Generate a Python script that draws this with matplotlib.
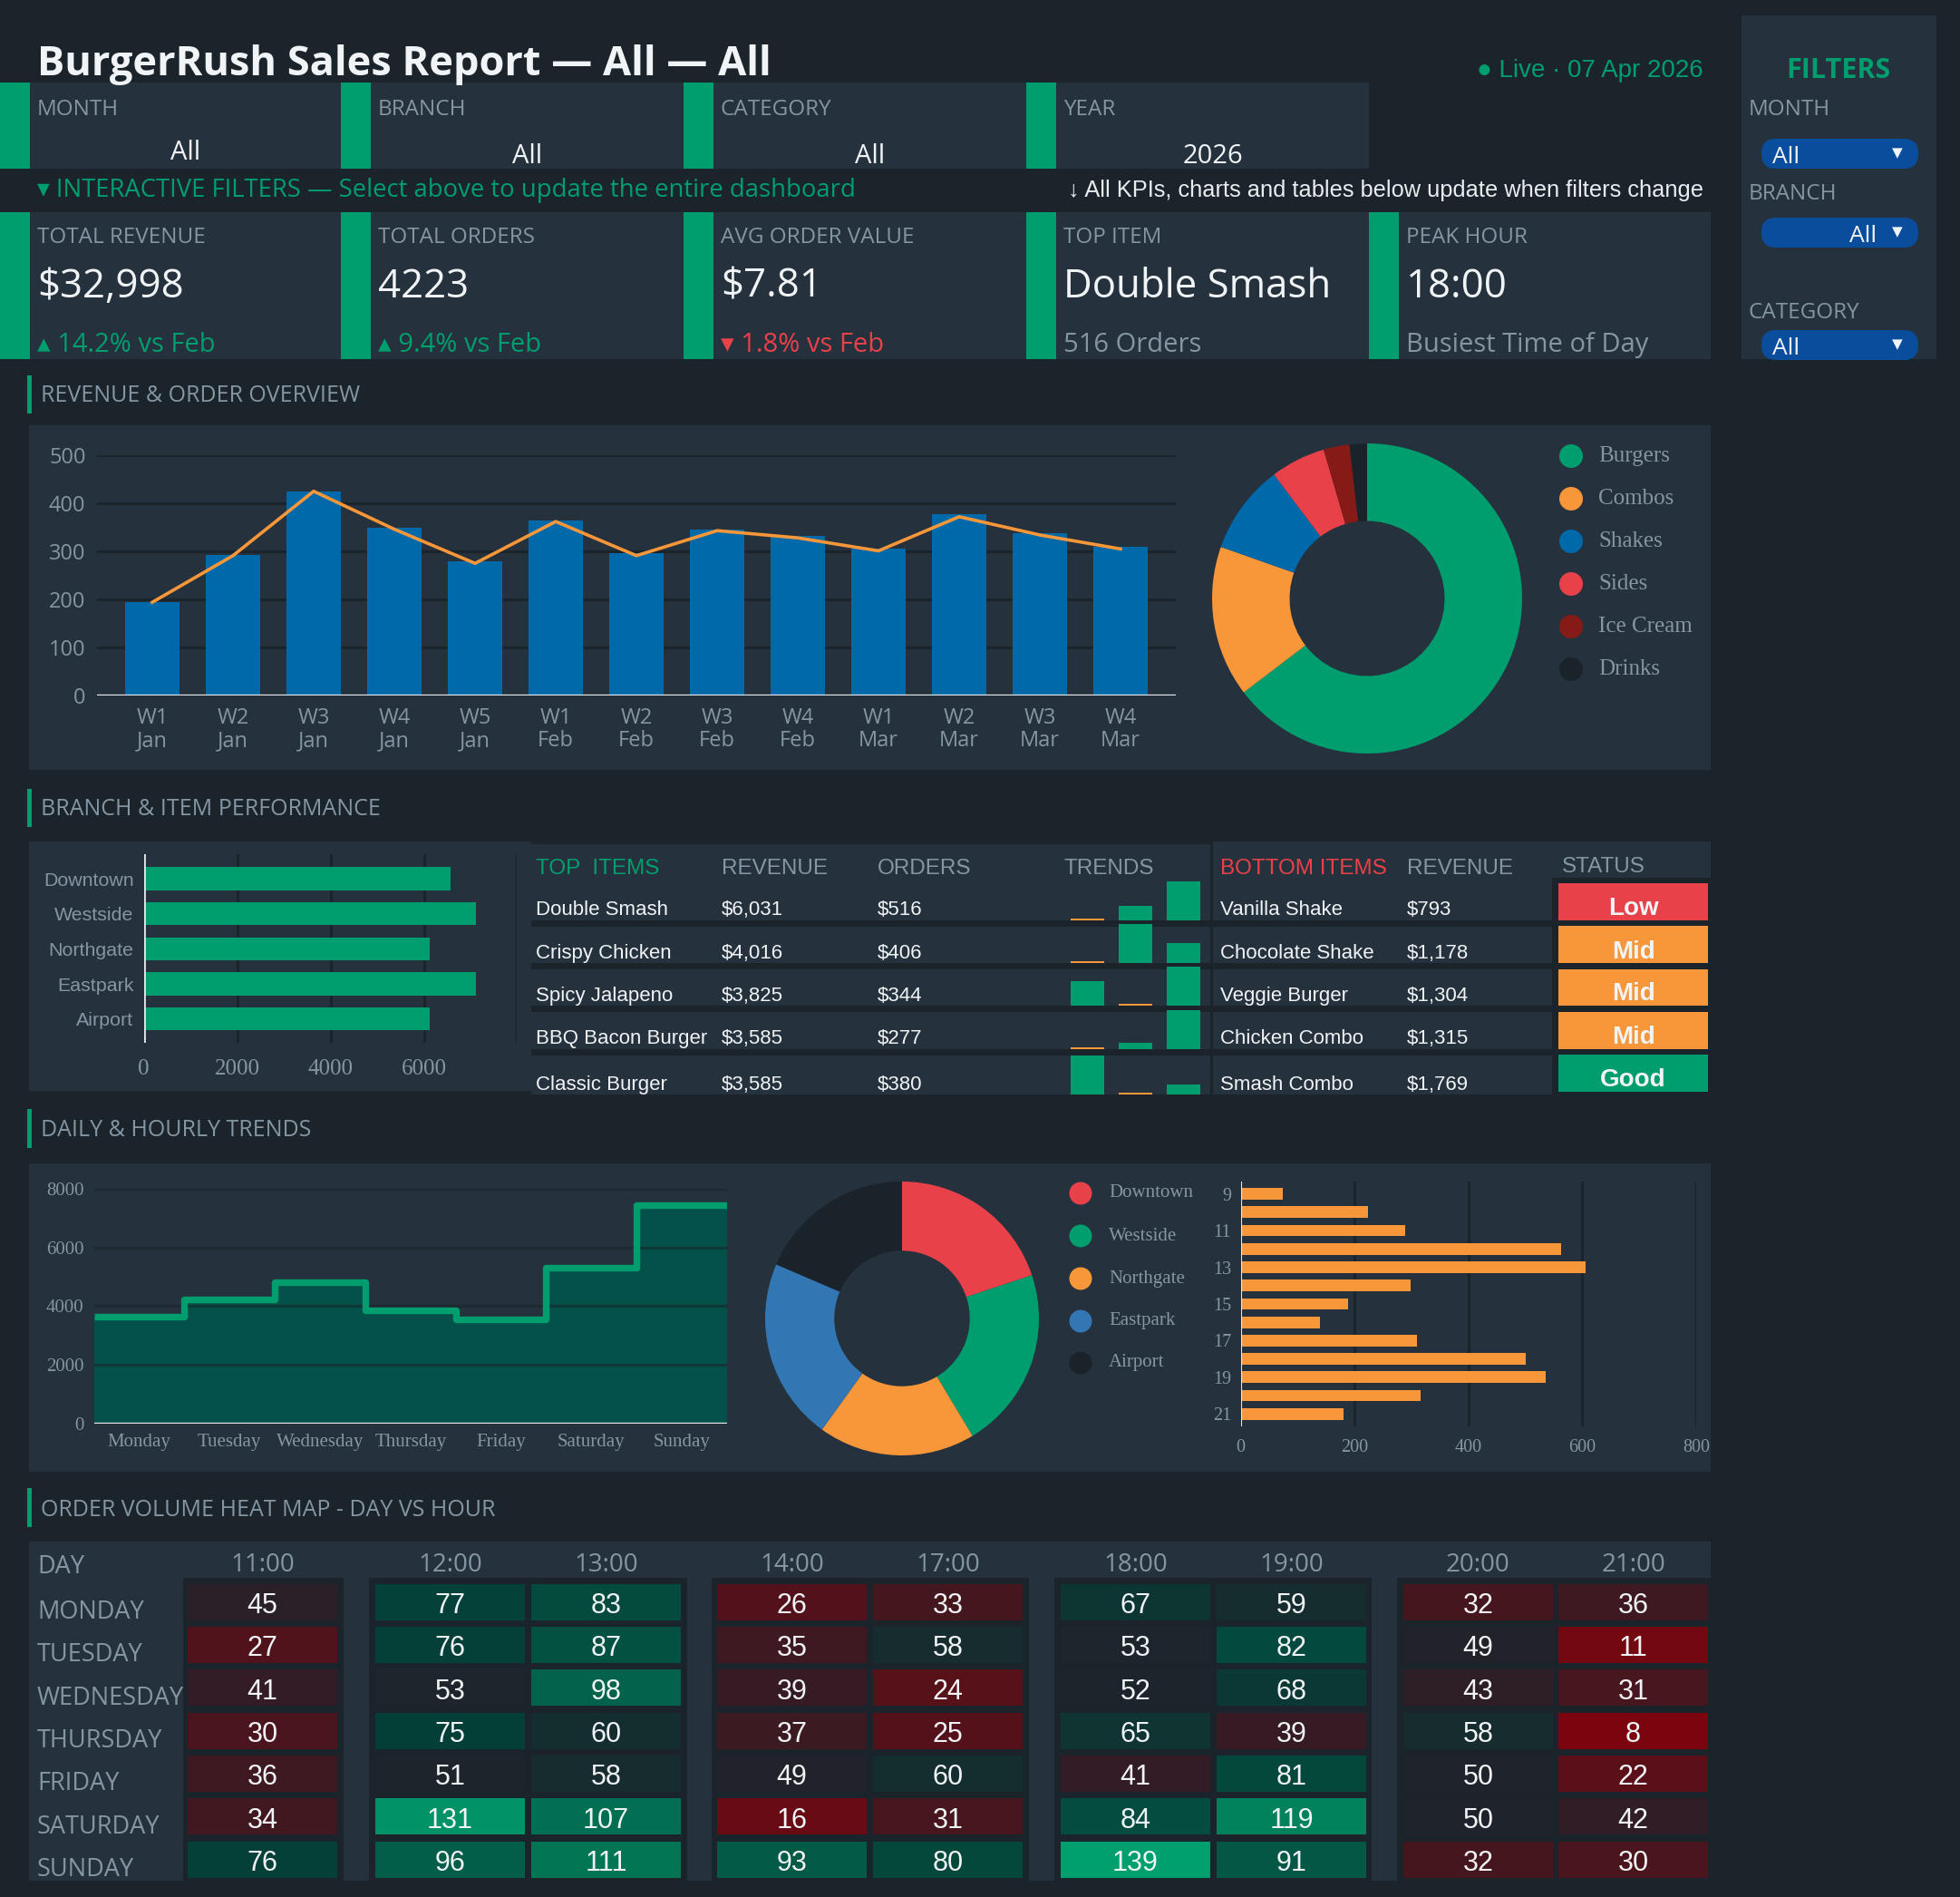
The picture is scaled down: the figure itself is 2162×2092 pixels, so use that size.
import matplotlib
matplotlib.use("Agg")
import matplotlib.pyplot as plt
import numpy as np
from matplotlib.colors import LinearSegmentedColormap, Normalize
from matplotlib.patches import FancyBboxPatch, Rectangle

W, H = 2162, 2092

BG = "#1c242b"
PANEL = "#25313c"
GREY = "#8596a3"
WHITE = "#f1f4f6"
GREEN = "#009e6e"
RED = "#e8414a"
ORANGE = "#f8963a"
BLUE = "#0069aa"
PILL = "#0a4d9c"

MONT = ["Open Sans", "DejaVu Sans"]
ARIAL = ["Liberation Sans", "DejaVu Sans"]
TIMES = ["Liberation Serif", "DejaVu Serif"]

plt.rcParams["font.family"] = MONT

# ---- data
filter_names = ["MONTH", "BRANCH", "CATEGORY", "YEAR"]
filter_values = ["All", "All", "All", "2026"]

kpi_names = ["TOTAL REVENUE", "TOTAL ORDERS", "AVG ORDER VALUE", "TOP ITEM", "PEAK HOUR"]
kpi_values = ["$32,998", "4223", "$7.81", "Double Smash", "18:00"]
kpi_notes = ["▴ 14.2% vs Feb", "▴ 9.4% vs Feb", "▾ 1.8% vs Feb", "516 Orders", "Busiest Time of Day"]

weeks = ["W1\nJan", "W2\nJan", "W3\nJan", "W4\nJan", "W5\nJan", "W1\nFeb", "W2\nFeb",
         "W3\nFeb", "W4\nFeb", "W1\nMar", "W2\nMar", "W3\nMar", "W4\nMar"]
week_orders = [195, 292, 425, 349, 280, 364, 296, 345, 332, 305, 377, 337, 309]
week_trend = [194, 291, 425, 346, 275, 362, 291, 343, 328, 301, 372, 334, 305]

categories = ["Burgers", "Combos", "Shakes", "Sides", "Ice Cream", "Drinks"]
category_revenue = [21300, 5190, 3080, 1890, 890, 600]
category_colors = [GREEN, ORANGE, BLUE, RED, "#851a17", "#1b232a"]

branches = ["Downtown", "Westside", "Northgate", "Eastpark", "Airport"]
branch_revenue = [6560, 7100, 6120, 7100, 6118]
branch_colors = [RED, GREEN, ORANGE, "#3277b3", "#1b232a"]

top_items = ["Double Smash", "Crispy Chicken", "Spicy Jalapeno", "BBQ Bacon Burger", "Classic Burger"]
top_revenue = [6031, 4016, 3825, 3585, 3585]
top_orders = [516, 406, 344, 277, 380]
top_trend = [[0, 37, 100], [0, 100, 51], [62, 0, 100], [0, 16, 100], [100, 0, 26]]

bottom_items = ["Vanilla Shake", "Chocolate Shake", "Veggie Burger", "Chicken Combo", "Smash Combo"]
bottom_revenue = [793, 1178, 1304, 1315, 1769]
bottom_status = ["Low", "Mid", "Mid", "Mid", "Good"]
status_colors = {"Low": RED, "Mid": ORANGE, "Good": GREEN}

days = ["Monday", "Tuesday", "Wednesday", "Thursday", "Friday", "Saturday", "Sunday"]
day_revenue = [3630, 4230, 4820, 3850, 3560, 5300, 7440]

hours = [9, 10, 11, 12, 13, 14, 15, 16, 17, 18, 19, 20, 21]
hour_orders = [74, 223, 289, 562, 606, 298, 188, 140, 310, 500, 536, 316, 181]

heat_days = ["MONDAY", "TUESDAY", "WEDNESDAY", "THURSDAY", "FRIDAY", "SATURDAY", "SUNDAY"]
heat_hours = ["11:00", "12:00", "13:00", "14:00", "17:00", "18:00", "19:00", "20:00", "21:00"]
heat_orders = [
    [45, 77, 83, 26, 33, 67, 59, 32, 36],
    [27, 76, 87, 35, 58, 53, 82, 49, 11],
    [41, 53, 98, 39, 24, 52, 68, 43, 31],
    [30, 75, 60, 37, 25, 65, 39, 58, 8],
    [36, 51, 58, 49, 60, 41, 81, 50, 22],
    [34, 131, 107, 16, 31, 84, 119, 50, 42],
    [76, 96, 111, 93, 80, 139, 91, 32, 30],
]

# ---- canvas in pixel coordinates: panels below, text on top
fig = plt.figure(figsize=(W / 100, H / 100), dpi=100, facecolor=BG)
bg = fig.add_axes([0, 0, 1, 1])
fg = fig.add_axes([0, 0, 1, 1], zorder=10)
for a in (bg, fg):
    a.set_xlim(0, W)
    a.set_ylim(H, 0)
    a.axis("off")
fg.patch.set_visible(False)


def box(x0, y0, x1, y1):
    ax = fig.add_axes([x0 / W, 1 - y1 / H, (x1 - x0) / W, (y1 - y0) / H])
    ax.set_facecolor("none")
    return ax


def rect(x0, y0, x1, y1, color):
    bg.add_patch(Rectangle((x0, y0), x1 - x0, y1 - y0, color=color, lw=0))


def txt(x, y, s, size, color=GREY, family=MONT, **kw):
    kw.setdefault("va", "baseline")
    fg.text(x, y, s, fontsize=size, color=color, family=family, **kw)


def style_axes(ax, size, family, xpad, ypad):
    for s in ax.spines.values():
        s.set_visible(False)
    ax.tick_params(length=0, colors=GREY, labelsize=size)
    ax.tick_params(axis="x", pad=xpad)
    ax.tick_params(axis="y", pad=ypad)
    for lbl in ax.get_xticklabels() + ax.get_yticklabels():
        lbl.set_family(family)


# ---- header
txt(41, 83, "BurgerRush Sales Report — All — All", 32.5, WHITE, weight="bold")
txt(1879, 85, "● Live · 07 Apr 2026", 20, GREEN, ARIAL, ha="right")

card_x = [0, 376, 754, 1132, 1510, 1887]
for i, (name, val) in enumerate(zip(filter_names, filter_values)):
    x0, x1 = card_x[i], card_x[i + 1]
    rect(x0, 91, x1, 186, PANEL)
    rect(x0, 91, x0 + 33, 186, GREEN)
    txt(x0 + 41, 127, name, 17.5)
    txt((x0 + 33 + x1) / 2, 176 if i == 0 else 180, val, 21, WHITE, ha="center")

txt(41, 217, "▾ INTERACTIVE FILTERS — Select above to update the entire dashboard", 19.8, GREEN)
txt(1879, 217, "↓ All KPIs, charts and tables below update when filters change", 18.3,
    "#e8edf0", ARIAL, ha="right")

for i, (name, val, note) in enumerate(zip(kpi_names, kpi_values, kpi_notes)):
    x0, x1 = card_x[i], card_x[i + 1]
    rect(x0, 234, x1, 396, PANEL)
    rect(x0, 234, x0 + 33, 396, GREEN)
    note_color = GREEN if note.startswith("▴") else RED if note.startswith("▾") else GREY
    txt(x0 + 41, 268, name, 17.5)
    txt(x0 + 41, 328, val, 31.5, WHITE)
    txt(x0 + 41, 388, note, 21, note_color)

# filter sidebar
rect(1921, 17, 2136, 396, PANEL)
txt(2028, 86, "FILTERS", 22, GREEN, weight="bold", ha="center")
for name, base in [("MONTH", 127), ("BRANCH", 220), ("CATEGORY", 351)]:
    txt(1929, base, name, 17.5)
for (y0, y1), right in [((153, 186), False), ((240, 273), True), ((364, 397), False)]:
    bg.add_patch(FancyBboxPatch((1943, y0), 173, y1 - y0,
                                boxstyle="round,pad=0,rounding_size=16", color=PILL, lw=0))
    if right:
        txt(2070, y1 - 6, "All", 19, WHITE, ha="right")
    else:
        txt(1955, y1 - 6, "All", 19, WHITE)
    txt(2093, (y0 + y1) / 2 - 1, "▼", 11, WHITE, ["DejaVu Sans"], ha="center", va="center")


def section(y0, y1, base, title):
    rect(30, y0, 35, y1, GREEN)
    txt(45, base, title, 18)


# ---- revenue & order overview
section(414, 456, 443, "REVENUE & ORDER OVERVIEW")
rect(32, 469, 1887, 849, PANEL)

ax = box(107, 502, 1297, 767)
x = np.arange(len(weeks))
ax.bar(x, week_orders, width=0.67, color=BLUE, zorder=2)
ax.plot(x, week_trend, color=ORANGE, lw=2.6, zorder=3)
ax.set_xlim(-0.685, len(weeks) - 0.315)
ax.set_ylim(0, 500)
ax.set_yticks(range(0, 501, 100))
ax.set_xticks(x, weeks)
ax.set_axisbelow(True)
ax.grid(axis="y", color=BG, lw=2.2)
ax.axhline(0, color="#e3e7ea", lw=2.4, zorder=4)
style_axes(ax, 17, MONT, 9, 9)
for lbl in ax.get_xticklabels():
    lbl.set_linespacing(1.1)

ax = box(1508 - 171, 660 - 171, 1508 + 171, 660 + 171)
ax.pie(category_revenue, colors=category_colors, startangle=90, counterclock=False,
       wedgeprops=dict(width=0.5, linewidth=0))
ax.set_xlim(-1, 1)
ax.set_ylim(-1, 1)
leg_y = [503, 550, 597, 644, 691, 738]
fg.scatter([1733] * len(categories), leg_y, s=350, c=category_colors, lw=0)
for name, y in zip(categories, leg_y):
    txt(1763, y, name, 18, GREY, TIMES, va="center")

# ---- branch & item performance
section(870, 912, 899, "BRANCH & ITEM PERFORMANCE")
rect(32, 928, 586, 1203, PANEL)
rect(586, 931, 1335, 1207, PANEL)
rect(1338, 928, 1887, 1207, PANEL)
rect(1712, 968, 1887, 1207, BG)
row_bottoms = [1015, 1062, 1109, 1157, 1207]
for y in row_bottoms[:-1]:
    rect(586, y, 1712, y + 7, BG)

ax = box(158.5, 942, 570, 1150)
yb = np.arange(len(branches))
ax.barh(yb, branch_revenue, height=0.65, color=GREEN, zorder=2)
ax.set_ylim(len(branches) - 0.32, -0.70)
ax.set_xlim(0, 7980)
ax.set_xticks([0, 2000, 4000, 6000])
ax.set_yticks(yb, branches)
ax.set_axisbelow(True)
ax.grid(axis="x", color=BG, lw=2.2)
ax.axvline(0, color="#e3e7ea", lw=2, zorder=4)
ax.axvline(7980, color=BG, lw=2.2, zorder=4)
style_axes(ax, 15.4, ARIAL, 13, 8)
for lbl in ax.get_xticklabels():
    lbl.set_family(TIMES)
    lbl.set_fontsize(18)

head = 964
txt(591, head, "TOP  ITEMS", 17.5, GREEN, ARIAL)
txt(796, head, "REVENUE", 17.5, GREY, ARIAL)
txt(968, head, "ORDERS", 17.5, GREY, ARIAL)
txt(1173, head, "TRENDS", 17.5, GREY, ARIAL)
txt(1346, head, "BOTTOM ITEMS", 17.5, RED, ARIAL)
txt(1552, head, "REVENUE", 17.5, GREY, ARIAL)
txt(1723, head - 2, "STATUS", 17.5, GREY, ARIAL)

row_base = [1009, 1057, 1104, 1151, 1202]
for i in range(len(top_items)):
    b = row_base[i]
    txt(591, b, top_items[i], 16, WHITE, ARIAL)
    txt(796, b, f"${top_revenue[i]:,}", 16, WHITE, ARIAL)
    txt(968, b, f"${top_orders[i]}", 16, WHITE, ARIAL)
    txt(1346, b, bottom_items[i], 16, WHITE, ARIAL)
    txt(1552, b, f"${bottom_revenue[i]:,}", 16, WHITE, ARIAL)

    ax = box(1173, row_bottoms[i] - 43, 1331.5, row_bottoms[i])
    trend = top_trend[i]
    ax.bar(range(3), [v if v > 0 else 5 for v in trend], width=0.7,
           color=[GREEN if v > 0 else ORANGE for v in trend])
    ax.set_xlim(-0.5, 2.5)
    ax.set_ylim(0, 100)
    ax.axis("off")

ax = box(1719, 974, 1884, 1204)
ys = np.arange(len(bottom_status))
ax.barh(ys, 1, height=41 / 47.25, color=[status_colors[s] for s in bottom_status])
ax.set_xlim(0, 1)
ax.set_ylim(len(ys) - 1 + 0.434, -0.434)
ax.axis("off")
for s, b in zip(bottom_status, [1009, 1057, 1103, 1151, 1198]):
    txt(1801.5, b, s, 20, WHITE, ARIAL, ha="center", weight="bold")

# ---- daily & hourly trends
section(1223, 1266, 1253, "DAILY & HOURLY TRENDS")
rect(32, 1283, 1887, 1623, PANEL)

ax = box(103.5, 1310.7, 802, 1570)
edges = np.arange(len(days) + 1) - 0.5
ax.stairs(day_revenue, edges, fill=True, color="#03514a", zorder=1)
step = ax.stairs(day_revenue, edges, baseline=None, color=GREEN, lw=5.3, zorder=3)
step.set_joinstyle("round")
ax.set_xlim(-0.5, len(days) - 0.5)
ax.set_ylim(0, 8000)
ax.set_xticks(range(len(days)), days)
ax.set_yticks(range(0, 8001, 2000))
ax.grid(axis="y", color=BG, lw=2.2, alpha=0.6, zorder=2)
ax.axhline(0, color="#e3e7ea", lw=2.4, zorder=4)
style_axes(ax, 15, TIMES, 8, 8)

ax = box(995 - 151, 1454 - 151, 995 + 151, 1454 + 151)
ax.pie(branch_revenue, colors=branch_colors, startangle=90, counterclock=False,
       wedgeprops=dict(width=0.505, linewidth=0))
ax.set_xlim(-1, 1)
ax.set_ylim(-1, 1)
leg_y = [1316, 1363, 1410, 1457, 1503]
fg.scatter([1192] * len(branches), leg_y, s=324, c=branch_colors, lw=0)
for name, y in zip(branches, leg_y):
    txt(1223, y, name, 15, GREY, TIMES, va="center")

ax = box(1368.5, 1302.7, 1871, 1573)
ax.barh(hours, hour_orders, height=0.63, color=ORANGE, zorder=2)
ax.set_ylim(hours[-1] + 0.68, hours[0] - 0.69)
ax.set_xlim(0, 800)
ax.set_yticks(hours[::2])
ax.set_xticks(range(0, 801, 200))
ax.set_axisbelow(True)
ax.grid(axis="x", color=BG, lw=2.2)
ax.axvline(0, color="#e3e7ea", lw=1.6, zorder=4)
style_axes(ax, 14.5, TIMES, 10, 7.5)

# ---- heat map
section(1641, 1684, 1672, "ORDER VOLUME HEAT MAP - DAY VS HOUR")
rect(32, 1700, 1887, 2074, PANEL)
for x0, x1 in [(202, 379), (407, 758), (785, 1135), (1163, 1513), (1541, 1887)]:
    rect(x0, 1740, x1, 2074, BG)

heat_cmap = LinearSegmentedColormap.from_list(
    "heat", [(0, "#8a0009"), (50 / 140, "#1f232b"), (75 / 140, "#043f37"), (1, "#00a06e")])
heat_norm = Normalize(0, 140)
heat_left = [207, 414, 586, 791, 963, 1170, 1342, 1548, 1719]
pitch = 47.3
rows = np.arange(len(heat_days))

txt(41, 1735, "DAY", 19.5)
for i, day in enumerate(heat_days):
    txt(41, 1785 + pitch * i, day, 19.5)

for j, hour in enumerate(heat_hours):
    left = heat_left[j]
    col = [r[j] for r in heat_orders]
    ax = box(left, 1746.7, left + 165, 1746.7 + pitch * (len(rows) - 1) + 40)
    ax.barh(rows, 1, height=40 / pitch, color=heat_cmap(heat_norm(col)))
    ax.set_xlim(0, 1)
    ax.set_ylim(len(rows) - 1 + 20 / pitch, -20 / pitch)
    ax.axis("off")
    txt(left + 82.5, 1733, hour, 20, ha="center")
    for i, v in enumerate(col):
        txt(left + 82.5, 1779 + pitch * i, str(v), 22, WHITE, ARIAL, ha="center")

fig.savefig("out.png", dpi=100, facecolor=BG)
